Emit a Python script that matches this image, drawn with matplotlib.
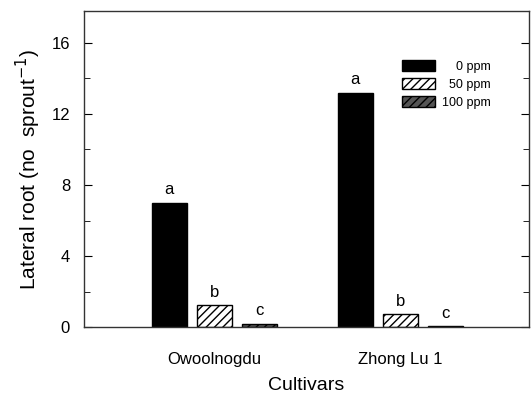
import numpy as np
import matplotlib
matplotlib.use("Agg")
import matplotlib.pyplot as plt

plt.rcParams['font.family'] = ['Liberation Sans', 'DejaVu Sans']

# cultivar data: lateral roots per sprout at each concentration
cultivars = ["Owoolnogdu", "Zhong Lu 1"]
conc_labels = ["0 ppm", "50 ppm", "100 ppm"]
roots_0 = [7.0, 13.2]
roots_50 = [1.25, 0.72]
roots_100 = [0.18, 0.05]
letters_0 = ["a", "a"]
letters_50 = ["b", "b"]
letters_100 = ["c", "c"]

fig = plt.figure(figsize=(5.31, 3.94), dpi=100)
ax = fig.add_axes([0.158, 0.170, 0.838, 0.802])

x = np.arange(1, len(cultivars) + 1)
w = 0.188
off = 0.242

plt.rcParams['hatch.linewidth'] = 1.0
series = [
    (roots_0, letters_0, dict(color="black", edgecolor="black")),
    (roots_50, letters_50, dict(color="white", edgecolor="black", hatch="////")),
    (roots_100, letters_100, dict(color="#555555", edgecolor="black", hatch="////")),
]
for i, (vals, lets, style) in enumerate(series):
    pos = x + (i - 1) * off
    ax.bar(pos, vals, width=w, linewidth=1.0, label=conc_labels[i], **style)
    for p, v, t in zip(pos, vals, lets):
        ax.text(p, v + 0.3, t, ha="center", va="bottom", fontsize=12)

ax.set_xlim(0.30, 2.69)
ax.set_ylim(0, 17.8)
ax.set_xticks(x)
ax.set_xticklabels(cultivars, fontsize=12)
ax.tick_params(axis="x", length=0, pad=18)
ax.set_yticks([0, 4, 8, 12, 16])
ax.set_yticks([2, 6, 10, 14], minor=True)
ax.tick_params(axis="y", which="both", direction="in", right=True, labelsize=12, pad=10)
ax.tick_params(axis="y", which="major", length=6)
ax.tick_params(axis="y", which="minor", length=4)
for s in ax.spines.values():
    s.set_color("#333333")
    s.set_linewidth(1.0)

ax.set_ylabel("Lateral root (no  sprout$^{-1}$)", fontsize=15, labelpad=6)
ax.set_xlabel("Cultivars", fontsize=14, labelpad=7)

fs = "\u2007"
leg = ax.legend([fs + fs + "0 ppm", fs + "50 ppm", "100 ppm"],
                loc="upper right", bbox_to_anchor=(0.94, 0.88), frameon=False,
                fontsize=9, handlelength=2.6, handleheight=0.9, labelspacing=0.45,
                handletextpad=0.6)

fig.savefig("out.png", dpi=100)
